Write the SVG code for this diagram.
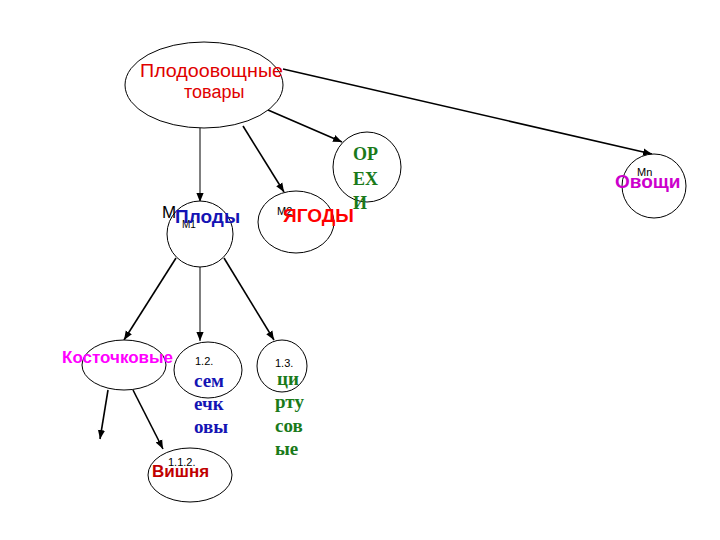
<svg xmlns="http://www.w3.org/2000/svg" width="720" height="540" viewBox="0 0 720 540">
<defs>
<marker id="ah" viewBox="0 0 10 10" refX="10" refY="5" markerWidth="9" markerHeight="9" markerUnits="userSpaceOnUse" orient="auto">
<path d="M0,1 L10,5 L0,9 z" fill="#000"/>
</marker>
</defs>
<style>
.n{fill:#fff;stroke:#000;stroke-width:1}
.c line{stroke:#000;stroke-width:1.6;marker-end:url(#ah)}
.s{font-family:"Liberation Sans",Arial,sans-serif}
.b{font-family:"Liberation Sans",Arial,sans-serif;font-weight:bold}
.t{font-family:"Liberation Serif","Times New Roman",serif;font-weight:bold}
.k{font-family:"Liberation Sans",Arial,sans-serif;font-size:11px;fill:#000}
</style>
<rect width="720" height="540" fill="#fff"/>
<g class="c" id="connectors">
<line x1="200" y1="128" x2="200" y2="202" style="stroke-width:1"/>
<line x1="243" y1="126" x2="284" y2="192"/>
<line x1="268" y1="110" x2="342" y2="142"/>
<line x1="283" y1="69" x2="652" y2="154"/>
<line x1="176" y1="258" x2="124" y2="340"/>
<line x1="200" y1="267" x2="200" y2="341" style="stroke-width:1"/>
<line x1="224" y1="258" x2="274" y2="340"/>
<line x1="108" y1="390" x2="100" y2="439"/>
<line x1="133" y1="390" x2="163" y2="449"/>
</g>
<g id="root">
<ellipse class="n" cx="204" cy="85" rx="79" ry="43"/>
<text class="s" x="140" y="77" font-size="18" fill="#e00000" textLength="143" lengthAdjust="spacingAndGlyphs">Плодоовощные</text>
<text class="s" x="184" y="98" font-size="18" fill="#e00000">товары</text>
</g>
<g id="plody">
<circle class="n" cx="200" cy="234" r="33"/>
<text class="s" x="162" y="218" font-size="17" fill="#000">M</text>
<text class="s" x="182" y="228" font-size="10" fill="#000">M1</text>
<text class="b" x="175" y="223" font-size="19" fill="#1414b4">Плоды</text>
</g>
<g id="yagody">
<ellipse class="n" cx="296" cy="222" rx="38" ry="31"/>
<text class="k" x="277" y="215">M2</text>
<text class="b" x="283" y="222" font-size="19" fill="#ff0000">ЯГОДЫ</text>
</g>
<g id="orehi">
<ellipse class="n" cx="367" cy="167" rx="34" ry="35"/>
<text class="t" x="353" y="160" font-size="18" fill="#1a7a1a">ОР</text>
<text class="t" x="353" y="185" font-size="18" fill="#1a7a1a">ЕХ</text>
<text class="t" x="353" y="209" font-size="18" fill="#1a7a1a">И</text>
</g>
<g id="ovoschi">
<circle class="n" cx="654" cy="186" r="32"/>
<text class="k" x="637" y="176">Mn</text>
<text class="b" x="615" y="188" font-size="19" fill="#cc00cc">Овощи</text>
</g>
<g id="kostochkovye">
<ellipse class="n" cx="124" cy="365" rx="42" ry="25"/>
<text class="b" x="62" y="363" font-size="17" fill="#ff00ff">Косточковые</text>
</g>
<g id="semechkovye">
<ellipse class="n" cx="208" cy="370" rx="34" ry="28"/>
<text class="k" x="195" y="365">1.2.</text>
<text class="t" x="194" y="387" font-size="19" fill="#1414b4">сем</text>
<text class="t" x="194" y="410" font-size="19" fill="#1414b4">ечк</text>
<text class="t" x="194" y="433" font-size="19" fill="#1414b4">овы</text>
</g>
<g id="citrusovye">
<ellipse class="n" cx="282" cy="366" rx="25" ry="26"/>
<text class="k" x="275" y="367">1.3.</text>
<text class="t" x="277" y="385" font-size="19" fill="#1a7a1a">ци</text>
<text class="t" x="275" y="408" font-size="19" fill="#1a7a1a">рту</text>
<text class="t" x="275" y="432" font-size="19" fill="#1a7a1a">сов</text>
<text class="t" x="275" y="455" font-size="19" fill="#1a7a1a">ые</text>
</g>
<g id="vishnya">
<ellipse class="n" cx="190" cy="475" rx="42" ry="27"/>
<text class="k" x="168" y="466" font-size="12">1.1.2.</text>
<text class="b" x="152" y="477" font-size="17" fill="#c00000">Вишня</text>
</g>
</svg>
